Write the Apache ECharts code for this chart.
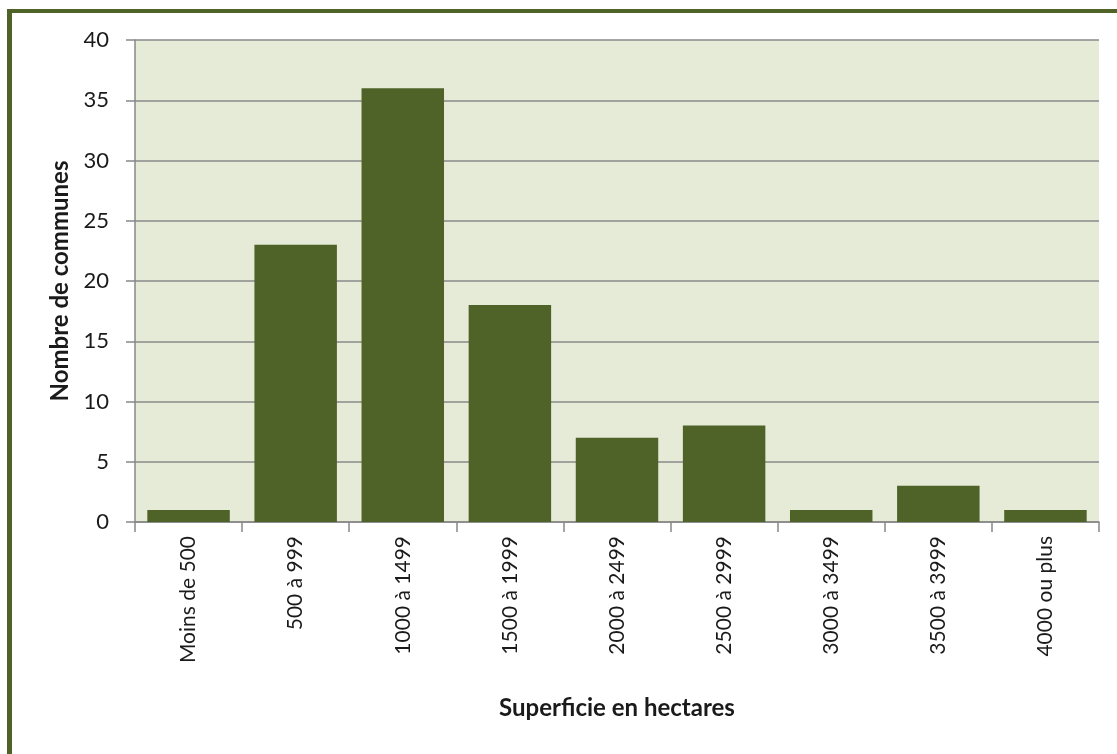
<!DOCTYPE html>
<html><head><meta charset="utf-8">
<script src="https://cdn.jsdelivr.net/npm/echarts@6/dist/echarts.min.js"></script>
<style>html,body{margin:0;padding:0;background:#fff}#c{width:1117px;height:754px}</style>
</head><body><div id="c"></div>
<script>
const categories = ['Moins de 500','500 à 999','1000 à 1499','1500 à 1999','2000 à 2499','2500 à 2999','3000 à 3499','3500 à 3999','4000 ou plus'];
const values = [1,23,36,18,7,8,1,3,1];
const yTicks = [0,5,10,15,20,25,30,35,40];

const chart = echarts.init(document.getElementById('c'));
chart.setOption({
  backgroundColor:'#ffffff',
  textStyle:{fontFamily:'Lato'},
  graphic:[
    {type:'rect',shape:{x:7,y:9,width:5,height:745},style:{fill:'#4f6228'},z:10},
    {type:'rect',shape:{x:7,y:9,width:1110,height:4},style:{fill:'#4f6228'},z:10}
  ],
  grid:{left:135,right:18,top:40,bottom:232,show:true,backgroundColor:'#e5ebd6',borderWidth:0},
  xAxis:{
    type:'category',data:categories,
    name:'Superficie en hectares',nameLocation:'middle',nameGap:174,
    nameTextStyle:{fontSize:24,fontWeight:'bold',color:'#1a1a1a',fontFamily:'Lato'},
    axisLine:{lineStyle:{color:'#888',width:1.5}},
    axisTick:{show:true,length:10,lineStyle:{color:'#888',width:1.5}},
    axisLabel:{rotate:90,fontSize:21,color:'#1a1a1a',margin:14,fontFamily:'Lato'}
  },
  yAxis:{
    type:'value',min:0,max:40,interval:5,
    name:'Nombre de communes',nameLocation:'middle',nameGap:60,
    nameTextStyle:{fontSize:24,fontWeight:'bold',color:'#1a1a1a',fontFamily:'Lato'},
    axisLine:{show:true,lineStyle:{color:'#888',width:1.5}},
    axisTick:{show:true,length:9,lineStyle:{color:'#888',width:1.5}},
    axisLabel:{fontSize:22,color:'#1a1a1a',margin:26,fontFamily:'Lato',
      formatter:v=>yTicks.includes(v)?String(v):''},
    splitLine:{lineStyle:{color:'#8a8a8a',width:1.5}}
  },
  series:[{type:'bar',data:values,barWidth:'77%',itemStyle:{color:'#4f6228'}}]
});
</script></body></html>
